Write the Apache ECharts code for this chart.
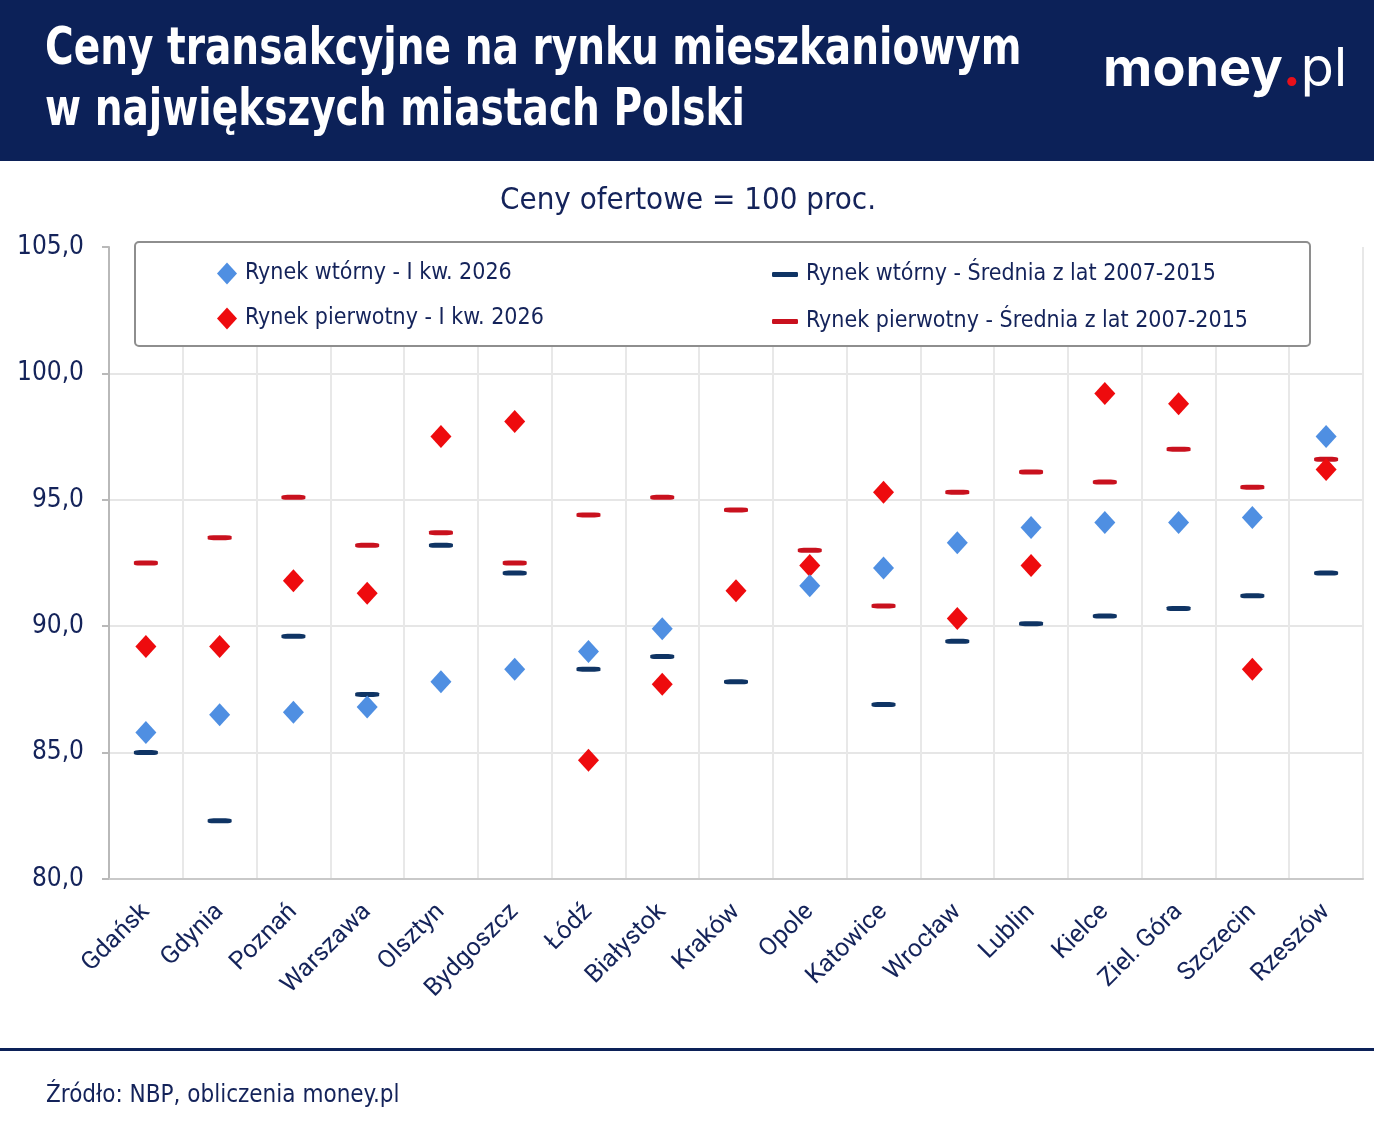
<!DOCTYPE html>
<html>
<head>
<meta charset="utf-8">
<script src="https://cdn.jsdelivr.net/npm/echarts@6/dist/echarts.min.js"></script>
<style>
html,body{margin:0;padding:0;background:#ffffff;}
#chart{width:1374px;height:1145px;}
</style>
</head>
<body>
<div id="chart"></div>
<script>
const categories = ['Gdańsk','Gdynia','Poznań','Warszawa','Olsztyn','Bydgoszcz','Łódź','Białystok','Kraków','Opole','Katowice','Wrocław','Lublin','Kielce','Ziel. Góra','Szczecin','Rzeszów'];
const secondary2026 = [85.8, 86.5, 86.6, 86.8, 87.8, 88.3, 89.0, 89.9, null, 91.6, 92.3, 93.3, 93.9, 94.1, 94.1, 94.3, 97.5];
const primary2026   = [89.2, 89.2, 91.8, 91.3, 97.5, 98.1, 84.7, 87.7, 91.4, 92.4, 95.3, 90.3, 92.4, 99.2, 98.8, 88.3, 96.2];
const secondaryAvg  = [85.0, 82.3, 89.6, 87.3, 93.2, 92.1, 88.3, 88.8, 87.8, null, 86.9, 89.4, 90.1, 90.4, 90.7, 91.2, 92.1];
const primaryAvg    = [92.5, 93.5, 95.1, 93.2, 93.7, 92.5, 94.4, 95.1, 94.6, 93.0, 90.8, 95.3, 96.1, 95.7, 97.0, 95.5, 96.6];
const yTicks = [80, 85, 90, 95, 100, 105];

const seriesNames = [
  'Rynek wtórny - I kw. 2026',
  'Rynek pierwotny - I kw. 2026',
  'Rynek wtórny - Średnia z lat 2007-2015',
  'Rynek pierwotny - Średnia z lat 2007-2015'
];

const NAVY = '#0c2158';
const TEXT = '#14235a';
const NARROW = "'DejaVu Sans Condensed', 'Roboto', sans-serif";
const SANS = "'Roboto', 'Noto Sans', sans-serif";
const LOGO = "'Inter', 'Lato', sans-serif";

const chart = echarts.init(document.getElementById('chart'), null, {renderer: 'canvas'});

const option = {
  backgroundColor: '#ffffff',
  animation: false,
  grid: {left: 109, right: 11, top: 247, bottom: 1145 - 879, containLabel: false},
  xAxis: {
    type: 'category',
    data: categories,
    boundaryGap: true,
    axisLine: {show: true, lineStyle: {color: '#c9c9c9', width: 2}},
    axisTick: {show: false},
    splitLine: {show: true, lineStyle: {color: '#e8e8e8', width: 2}},
    axisLabel: {rotate: 45, fontSize: 25, color: TEXT, fontFamily: SANS, margin: 29, interval: 0}
  },
  yAxis: {
    type: 'value',
    min: yTicks[0],
    max: yTicks[yTicks.length - 1],
    interval: 5,
    axisLine: {show: true, lineStyle: {color: '#b9b9b9', width: 2}},
    axisTick: {show: true, length: 7, lineStyle: {color: '#b9b9b9', width: 2}},
    splitLine: {show: true, lineStyle: {color: ['#e6e6e6','#e6e6e6','#e6e6e6','#e6e6e6','#e6e6e6','rgba(0,0,0,0)'], width: 2}},
    axisLabel: {
      fontSize: 26, color: TEXT, fontFamily: NARROW, margin: 25,
      formatter: v => v.toFixed(1).replace('.', ',')
    }
  },
  legend: [
    {
      data: [seriesNames[0], seriesNames[1]],
      orient: 'vertical', left: 212, top: 257, itemGap: 22,
      itemWidth: 20, itemHeight: 22, z: 10,
      textStyle: {fontSize: 23, color: TEXT, fontFamily: NARROW, padding: [0, 0, 0, 3]}
    },
    {
      data: [seriesNames[2], seriesNames[3]],
      orient: 'vertical', left: 767, top: 258, itemGap: 24,
      itemWidth: 26, itemHeight: 5, z: 10,
      textStyle: {fontSize: 23, color: TEXT, fontFamily: NARROW, padding: [0, 0, 0, 3]}
    }
  ],
  series: [
    {
      name: seriesNames[2], type: 'scatter', data: secondaryAvg,
      symbol: 'roundRect', symbolSize: [24, 5], z: 2,
      itemStyle: {color: '#0f3464', opacity: 1}
    },
    {
      name: seriesNames[3], type: 'scatter', data: primaryAvg,
      symbol: 'roundRect', symbolSize: [24, 5], z: 2,
      itemStyle: {color: '#c9111e', opacity: 1}
    },
    {
      name: seriesNames[1], type: 'scatter', data: primary2026,
      symbol: 'diamond', symbolSize: [21, 23], z: 3,
      itemStyle: {color: '#ee0b0e', opacity: 1}
    },
    {
      name: seriesNames[0], type: 'scatter', data: secondary2026,
      symbol: 'diamond', symbolSize: [21, 23], z: 4,
      itemStyle: {color: '#4f8fe2', opacity: 1}
    }
  ],
  graphic: [
    {type: 'rect', z: 1, shape: {x: 0, y: 0, width: 1374, height: 161}, style: {fill: NAVY}},
    {type: 'text', z: 2, x: 45, y: 50, scaleX: 0.835, style: {text: 'Ceny transakcyjne na rynku mieszkaniowym', fill: '#ffffff', font: "bold 52px " + NARROW, textVerticalAlign: 'middle'}},
    {type: 'text', z: 2, x: 45, y: 111, scaleX: 0.835, style: {text: 'w największych miastach Polski', fill: '#ffffff', font: "bold 52px " + NARROW, textVerticalAlign: 'middle'}},
    {type: 'text', z: 2, x: 1347, y: 70, style: {
      text: '{a|money}{b|.}{c|pl}', align: 'right', verticalAlign: 'middle',
      rich: {
        a: {fontSize: 54, fontWeight: 'bold', fill: '#ffffff', fontFamily: LOGO},
        b: {fontSize: 54, fontWeight: 'bold', fill: '#e8101a', fontFamily: LOGO},
        c: {fontSize: 54, fontWeight: 'normal', fill: '#ffffff', fontFamily: LOGO}
      }
    }},
    {type: 'text', z: 2, x: 688, y: 201, style: {text: 'Ceny ofertowe = 100 proc.', fill: TEXT, font: "500 31px " + NARROW, align: 'center', verticalAlign: 'middle'}},
    {type: 'rect', z: 5, shape: {x: 135, y: 242, width: 1175, height: 104, r: 4}, style: {fill: '#ffffff', stroke: '#8e8e8e', lineWidth: 2}},
    {type: 'rect', z: 1, shape: {x: 0, y: 1048, width: 1374, height: 3}, style: {fill: NAVY}},
    {type: 'text', z: 2, x: 46, y: 1096, style: {text: 'Źródło: NBP, obliczenia money.pl', fill: TEXT, font: "24px " + NARROW, verticalAlign: 'middle'}}
  ]
};

chart.setOption(option);
</script>
</body>
</html>
